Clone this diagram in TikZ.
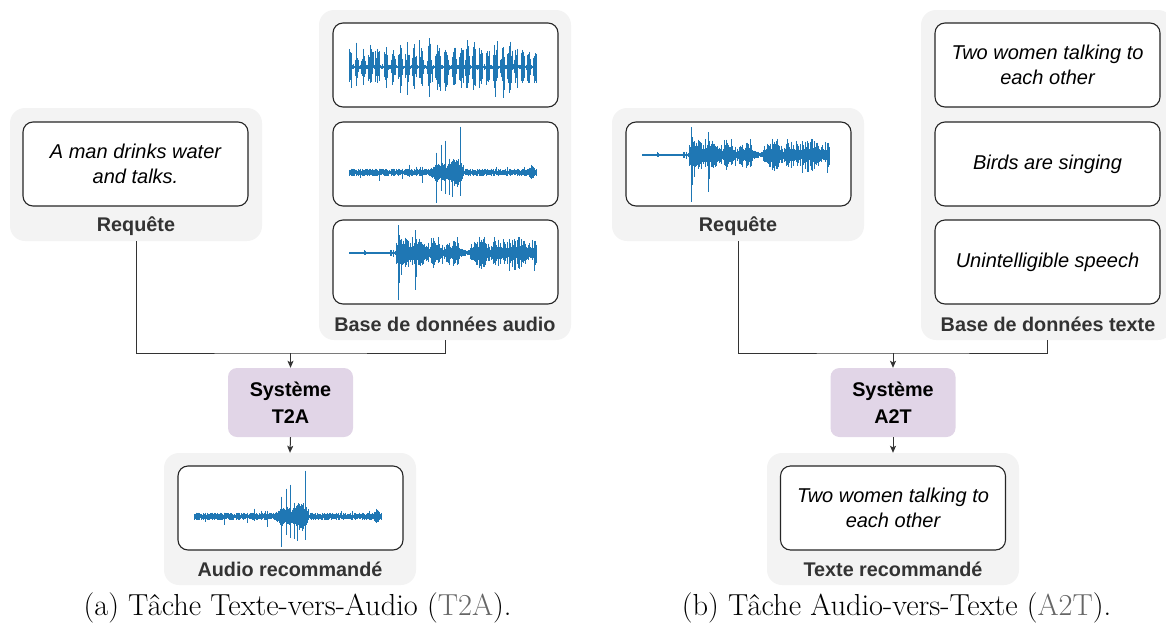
\documentclass[tikz,border=0pt]{standalone}
\usepackage{fontspec}
\newfontfamily\dfont{Liberation Sans}
\usetikzlibrary{arrows.meta}
\definecolor{grpc}{HTML}{F3F3F3}
\definecolor{sysc}{HTML}{E1D5E7}
\definecolor{wavc}{HTML}{1F77B4}
\definecolor{lblc}{HTML}{333333}
\definecolor{capg}{HTML}{666666}
\tikzset{
  grp/.style={fill=grpc, draw=none, rounded corners=15pt, minimum width=252pt, inner sep=0},
  box/.style={draw=black!85, line width=1.1pt, fill=white, rounded corners=10pt,
    minimum width=225pt, minimum height=84pt, inner sep=0, align=center,
    font=\dfont\fontsize{20}{25}\selectfont\itshape},
  lab/.style={font=\dfont\fontsize{19.8}{24}\selectfont\bfseries, text=lblc, anchor=base, inner sep=0},
  sysbox/.style={fill=sysc, rounded corners=9pt, minimum width=125pt, minimum height=69pt,
    inner sep=0, align=center, font=\dfont\fontsize{19.8}{26.7}\selectfont\bfseries, text=black},
  conn/.style={draw=black!80, line width=1pt},
  arr/.style={conn, -{Stealth[length=7pt,width=6pt,inset=1.5pt]}},
  wv/.style={draw=wavc, line width=0.9pt},
  wvbase/.style={draw=wavc, line width=1.2pt},
  captext/.style={font=\fontsize{30.4}{34}\selectfont, anchor=base, inner sep=0}
}
% speech-like bursts
\newcommand\waveA{%
  \pgfmathsetseed{7}%
  \draw[wvbase] (-96.5,2) -- (91.5,2);
  \foreach \i in {0,...,268}{%
    \pgfmathsetmacro\wph{\i*0.7}%
    \pgfmathsetmacro\wsv{sin(\wph*50+90*sin(\wph*2.3)+50*sin(\wph*6.1))}%
    \pgfmathsetmacro\wamp{(\wsv>-0.3) ? ((0.5+0.5*abs(\wsv))*(13+19*rnd)) : (1+2*rnd)}%
    \pgfmathsetmacro\wup{\wamp*(0.6+0.4*rnd)+((rnd>0.985) ? 14 : 0)}%
    \pgfmathsetmacro\wdn{\wamp*(0.6+0.4*rnd)+((rnd>0.985) ? 14 : 0)}%
    \draw[wv] (\wph-96.5,2-\wup) -- (\wph-96.5,2+\wdn);
  }%
}
% noise with central event
\newcommand\waveB{%
  \pgfmathsetseed{3}%
  \draw[wvbase] (-96.5,8.5) -- (91.5,8.5);
  \foreach \i in {0,...,268}{%
    \pgfmathsetmacro\wph{\i*0.7}%
    \pgfmathsetmacro\we{13*max(0,1-((\wph-107)/8)^2)+7*max(0,1-((\wph-92)/11)^2)+5*max(0,1-((\wph-183)/3)^2)}%
    \pgfmathsetmacro\wup{1.5+2.5*rnd+\we*(0.4+0.6*rnd)+((rnd>0.985) ? 4 : 0)}%
    \pgfmathsetmacro\wdn{1.5+2.5*rnd+\we*(0.4+0.6*rnd)+((rnd>0.985) ? 4 : 0)}%
    \draw[wv] (\wph-96.5,8.5-\wup) -- (\wph-96.5,8.5+\wdn);
  }%
  \foreach \p/\u/\d in {87.7/20/30, 92.7/28/18, 96/32/21, 100/14/22, 103/12/24, 111/46/23, 73/6/10, 60/8/4, 30/3/8}{%
    \draw[wv] (\p-96.5,8.5-\u) -- (\p-96.5,8.5+\d);
  }%
}
% silence then dense activity
\newcommand\waveC{%
  \pgfmathsetseed{5}%
  \draw[wvbase] (-96.5,-9) -- (91.5,-9);
  \foreach \i in {0,...,268}{%
    \pgfmathsetmacro\wph{\i*0.7}%
    \pgfmathsetmacro\wm{(0.55+0.45*abs(sin(\wph*9+30*sin(\wph*5))))*(((\wph>110) && (\wph<121)) ? 0.35 : 1)}%
    \pgfmathsetmacro\wamp{(\wph<47) ? (0.6+((abs(\wph-16)<1.2) ? 2 : 0)+((\wph>41) ? 4*rnd : 0)) : (\wm*(6+12*rnd))}%
    \pgfmathsetmacro\wup{\wamp*(0.65+0.35*rnd)+((rnd>0.98) && (\wph>47) ? 6 : 0)}%
    \pgfmathsetmacro\wdn{\wamp*(0.65+0.35*rnd)+((rnd>0.98) && (\wph>47) ? 6 : 0)}%
    \draw[wv] (\wph-96.5,-9-\wup) -- (\wph-96.5,-9+\wdn);
  }%
  \foreach \p/\u/\d in {49/28/47, 50.5/18/30, 52/14/22, 63/16/12, 66/23/37, 67.5/14/24, 145/16/10, 160/14/18, 170/12/16}{%
    \draw[wv] (\p-96.5,-9-\u) -- (\p-96.5,-9+\d);
  }%
}
\begin{document}
\begin{tikzpicture}[x=1pt,y=-1pt]
\useasboundingbox (0,0) rectangle (1166,629);

% ---------------- Panel (a) ----------------
\node[grp, minimum height=133pt] (reqAg) at (136,174.5) {};
\node[box] (reqA) at (135.5,164) {A man drinks water\\and talks.};
\node[lab] (reqAl) at (136,231.5) {Requête};

\node[grp, minimum height=330pt] (dbAg) at (445,175) {};
\node[box] (dbA1) at (445.5,65) {};
\node[box] (dbA2) at (445.5,164) {};
\node[box] (dbA3) at (445.5,262) {};
\node[lab] (dbAl) at (445,331.5) {Base de données audio};
\begin{scope}[shift={(dbA1.center)}]\waveA\end{scope}
\begin{scope}[shift={(dbA2.center)}]\waveB\end{scope}
\begin{scope}[shift={(dbA3.center)}]\waveC\end{scope}

\node[sysbox] (sysA) at (290.5,402.5) {Système\\T2A};
\coordinate (jA) at (290.5,353);

\node[grp, minimum height=132pt] (outAg) at (290,519) {};
\node[box] (outA) at (290.5,508) {};
\node[lab] (outAl) at (290,576.5) {Audio recommandé};
\begin{scope}[shift={(outA.center)}]\waveB\end{scope}

\draw[conn] (reqAg.south) |- (jA) -| (dbAg.south);
\draw[arr] (jA) -- (sysA.north);
\draw[arr] (sysA.south) -- (outAg.north);

\node[captext] (capA) at (297.5,615) {(a) Tâche Texte-vers-Audio ({\color{capg}T2A}).};

% ---------------- Panel (b) ----------------
\node[grp, minimum height=133pt] (reqBg) at (738,174.5) {};
\node[box] (reqB) at (738.5,164) {};
\node[lab] (reqBl) at (738,231.5) {Requête};
\begin{scope}[shift={(reqB.center)}]\waveC\end{scope}

\node[grp, minimum height=330pt] (dbBg) at (1047,175) {};
\node[box] (dbB1) at (1047.5,65) {Two women talking to\\each other};
\node[box] (dbB2) at (1047.5,164) {Birds are singing};
\node[box] (dbB3) at (1047.5,262) {Unintelligible speech};
\node[lab] (dbBl) at (1048,331.5) {Base de données texte};

\node[sysbox] (sysB) at (893,402.5) {Système\\A2T};
\coordinate (jB) at (893,353);

\node[grp, minimum height=132pt] (outBg) at (893,519) {};
\node[box] (outB) at (893,508) {Two women talking to\\each other};
\node[lab] (outBl) at (893,576.5) {Texte recommandé};

\draw[conn] (reqBg.south) |- (jB) -| (dbBg.south);
\draw[arr] (jB) -- (sysB.north);
\draw[arr] (sysB.south) -- (outBg.north);

\node[captext] (capB) at (896.5,615) {(b) Tâche Audio-vers-Texte ({\color{capg}A2T}).};
\end{tikzpicture}
\end{document}
